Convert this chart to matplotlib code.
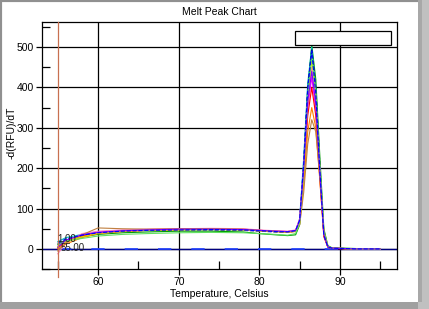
import matplotlib
matplotlib.use('Agg')
import matplotlib.pyplot as plt
from matplotlib.patches import Rectangle
from matplotlib.ticker import MultipleLocator

plt.rcParams['font.family'] = ['Liberation Sans', 'DejaVu Sans']

# temperature points (Celsius)
temps = [55, 56, 58, 60, 63, 66, 70, 74, 78, 80, 82, 83.5, 84.5, 85, 85.5,
         86, 86.5, 87, 87.5, 88, 88.5, 89, 92, 95]

# -d(RFU)/dT for each well
wells = {
    'green':   [12, 20, 30, 36, 40, 42, 44, 44, 42, 38, 35, 33, 35, 60, 200, 390, 505, 420, 230, 50, 8, 3, 1, 0],
    'teal':    [18, 28, 36, 42, 45, 47, 48, 48, 47, 45, 43, 42, 45, 75, 225, 410, 500, 395, 200, 35, 5, 2, 0, 0],
    'navy':    [10, 22, 33, 40, 44, 46, 47, 47, 46, 44, 42, 41, 44, 70, 215, 400, 495, 400, 210, 40, 6, 2, 0, 0],
    'magenta': [5, 20, 34, 42, 46, 48, 50, 50, 49, 46, 44, 43, 46, 72, 190, 350, 425, 345, 185, 35, 5, 2, 0, 0],
    'red':     [2, 18, 32, 40, 44, 46, 48, 49, 48, 46, 44, 43, 45, 68, 180, 330, 400, 330, 175, 30, 4, 1, 0, 0],
    'pink':    [-12, 14, 38, 44, 47, 49, 50, 51, 50, 47, 45, 44, 47, 75, 205, 370, 450, 365, 195, 38, 5, 2, 0, 0],
    'orange':  [0, 12, 28, 38, 43, 46, 48, 49, 48, 45, 43, 41, 43, 62, 160, 290, 350, 300, 170, 35, 5, 2, 0, 0],
    'brown':   [-5, 15, 35, 52, 50, 49, 50, 50, 49, 46, 44, 42, 44, 60, 140, 260, 320, 290, 180, 45, 6, 2, 0, 0],
    'yellow':  [6, 18, 30, 39, 44, 46, 47, 48, 47, 45, 43, 42, 44, 66, 185, 360, 470, 380, 200, 40, 6, 2, 0, 0],
    'lime':    [10, 20, 26, 32, 36, 38, 40, 41, 40, 38, 36, 34, 38, 64, 195, 380, 480, 390, 205, 42, 6, 2, 0, 0],
    'purple':  [4, 22, 35, 41, 45, 47, 49, 49, 48, 46, 44, 43, 46, 70, 200, 365, 440, 360, 190, 36, 5, 2, 0, 0],
    'blue':    [14, 25, 34, 40, 44, 46, 47, 48, 47, 45, 43, 42, 45, 72, 210, 395, 490, 385, 195, 34, 5, 2, 0, 0],
}
colors = {'green': '#00a000', 'teal': '#00c0c0', 'navy': '#000080', 'magenta': '#ff00ff',
          'red': '#ff0000', 'pink': '#ff80c0', 'orange': '#ff8000', 'brown': '#c08040',
          'yellow': '#e0e000', 'lime': '#60e060', 'purple': '#8000ff', 'blue': '#0000ff'}
dashed = {'navy', 'blue'}

# negative control
ntc = [0, 0, 0, 0, 0, 0, 0, 0, 0, 0, 0, 0, 0, 0, 0, 0, 0, 0, 0, 0, 0, 0, 0, 0]

fig = plt.figure(figsize=(4.29, 3.09), dpi=100)
fig.patch.set_facecolor('white')

# window frame
fig.patches.append(Rectangle((0, 0), 1, 1, transform=fig.transFigure,
                             fill=False, edgecolor='#909090', linewidth=3))
fig.patches.append(Rectangle((0, 0), 1, 0.024, transform=fig.transFigure,
                             facecolor='#a0a0a0', edgecolor='none'))
fig.patches.append(Rectangle((0.975, 0), 0.025, 1, transform=fig.transFigure,
                             facecolor='#c0c0c0', edgecolor='none'))
fig.patches.append(Rectangle((0.975, 0.024), 0.008, 0.976, transform=fig.transFigure,
                             facecolor='#a8a8a8', edgecolor='none'))

ax = fig.add_axes([0.098, 0.129, 0.827, 0.8])
ax.set_xlim(53.05, 97.05)
ax.set_ylim(-50, 562)

ax.grid(True, which='major', color='black', linewidth=0.9)
ax.set_axisbelow(True)
ax.xaxis.set_major_locator(MultipleLocator(10))
ax.xaxis.set_minor_locator(MultipleLocator(5))
ax.yaxis.set_major_locator(MultipleLocator(100))
ax.yaxis.set_minor_locator(MultipleLocator(50))
ax.tick_params(which='major', direction='out', length=4, width=0.9, labelsize=7.5, pad=2)
ax.tick_params(which='minor', direction='in', length=6, width=0.9)
for s in ax.spines.values():
    s.set_linewidth(0.9)

ax.axhline(0, color='#000080', linewidth=1.0, zorder=2)
ax.plot(temps, ntc, color='#2040ff', linewidth=1.2, dashes=(8, 12), zorder=3)

for name, vals in wells.items():
    ax.plot(temps, vals, color=colors[name], linewidth=0.8,
            linestyle='--' if name in dashed else '-', zorder=3)

ax.axvline(55, color='#c87050', linewidth=0.9, ymin=-0.03, clip_on=False, zorder=4)
ax.text(54.9, 18, '1.00', fontsize=7, color='#202020', zorder=5)
ax.text(55.3, -5, '55.00', fontsize=7, color='#202020', zorder=5)

# empty legend box
ax.add_patch(Rectangle((84.4, 505), 11.9, 35, transform=ax.transData,
                       facecolor='white', edgecolor='black', linewidth=0.9, zorder=6))

ax.set_title('Melt Peak Chart', fontsize=7.5, pad=5)
ax.set_xlabel('Temperature, Celsius', fontsize=7.5, labelpad=1)
ax.set_ylabel('-d(RFU)/dT', fontsize=7.5)
ax.yaxis.set_label_coords(-0.072, 0.55)

fig.savefig('out.png', dpi=100)
